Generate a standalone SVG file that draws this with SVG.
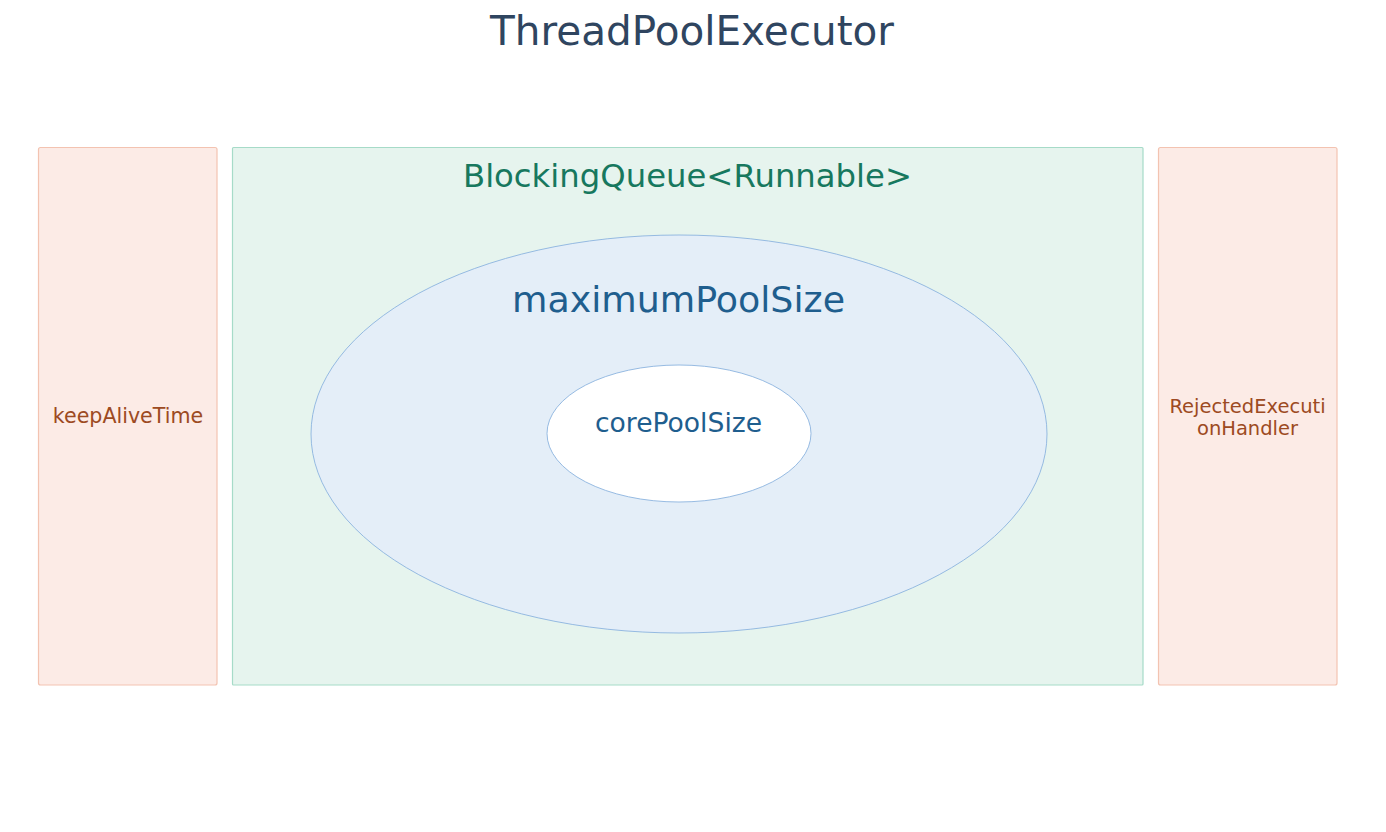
<svg xmlns="http://www.w3.org/2000/svg" width="1386" height="832" viewBox="0 0 1386 832">
<style>
text{font-family:"DejaVu Sans","Liberation Sans",sans-serif;text-anchor:middle}
.side{fill:#fcebe6;stroke:#f3c3b1;stroke-width:1.2}
.queue{fill:#e6f4ee;stroke:#a6dbc8;stroke-width:1.2}
.pool{stroke:#8bb3df;stroke-width:0.9}
.brown{fill:#9d4a22;font-size:20px}
.blue{fill:#1f5e8e}
</style>
<rect width="1386" height="832" fill="#ffffff"/>
<g id="title"><text x="692" y="45" font-size="40.5" fill="#2f4560">ThreadPoolExecutor</text></g>
<g id="keepAliveTime">
<rect class="side" x="38.5" y="147.5" width="178.5" height="537.5" rx="2"/>
<text class="brown" x="128" y="423" style="font-size:20.6px">keepAliveTime</text>
</g>
<g id="blockingQueue">
<rect class="queue" x="232.5" y="147.5" width="910.5" height="537.5" rx="1"/>
<text x="687.5" y="187" font-size="32.3" fill="#17785e">BlockingQueue&lt;Runnable&gt;</text>
</g>
<g id="rejectedExecutionHandler">
<rect class="side" x="1158.5" y="147.5" width="178.5" height="537.5" rx="2"/>
<text class="brown" x="1247.5" y="413" style="font-size:19.5px">RejectedExecuti</text>
<text class="brown" x="1247.5" y="435" style="font-size:19.5px">onHandler</text>
</g>
<g id="maximumPoolSize">
<ellipse class="pool" cx="679" cy="434" rx="368" ry="199" fill="#e4eef8"/>
<text class="blue" x="678.5" y="312" font-size="35" textLength="333" lengthAdjust="spacingAndGlyphs">maximumPoolSize</text>
</g>
<g id="corePoolSize">
<ellipse class="pool" cx="679" cy="433.5" rx="132" ry="68.5" fill="#ffffff"/>
<text class="blue" x="678.5" y="432" font-size="26.6">corePoolSize</text>
</g>
<g id="connectors"></g>
</svg>
